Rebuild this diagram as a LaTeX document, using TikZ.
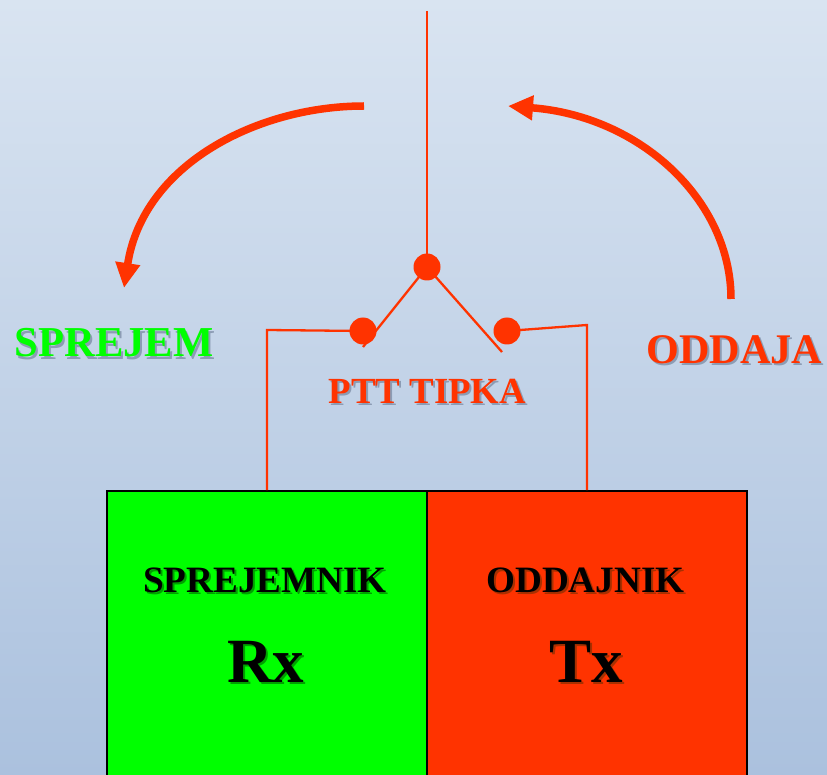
\documentclass[tikz,border=0pt]{standalone}
\usepackage{fontspec}
\setmainfont{Liberation Serif}
\usetikzlibrary{arrows.meta}
\definecolor{ored}{HTML}{FF3300}
\definecolor{lgreen}{HTML}{00FF00}
\definecolor{bgtop}{HTML}{D9E4F1}
\definecolor{bgbot}{HTML}{ABC1DE}
\definecolor{shblue}{HTML}{8C9CB4}
\definecolor{shgreen}{HTML}{00A000}
\definecolor{shred}{HTML}{A83000}
\newcommand{\shtext}[3]{\makebox[0pt][l]{\hspace{2pt}\raisebox{-2pt}{\color{#1}#3}}{\color{#2}#3}}
\tikzset{
  wire/.style={draw=ored,line width=2.3pt,line join=miter},
  bigarrow/.style={draw=ored,line width=7.5pt,-{Triangle[length=25pt,width=23.5pt,fill=ored]}},
  dot/.style={circle,fill=ored,draw=none,minimum size=27pt,inner sep=0pt},
  unit/.style={rectangle,draw=black,line width=2pt,minimum width=320pt,minimum height=400pt,inner sep=0pt},
  lab/.style={anchor=base,inner sep=0pt,font=\bfseries},
}
\begin{document}
\begin{tikzpicture}[x=1pt,y=-1pt]
\useasboundingbox (0,0) rectangle (827,775);
\clip (0,0) rectangle (827,775);
\fill[top color=bgtop,bottom color=bgbot] (0,0) rectangle (827,775);
% units
\node[unit,fill=lgreen] (rx) at (267,691) {};
\node[unit,fill=ored] (tx) at (587,691) {};
% switch
\coordinate (ant) at (427,11);
\coordinate (legL) at (363,347);
\coordinate (legR) at (502,352);
\coordinate (cornerL) at (267,330);
\coordinate (cornerR) at (587,325);
\node[dot] (hub) at (427,267) {};
\node[dot] (dotL) at (363,331) {};
\node[dot] (dotR) at (507,331) {};
\draw[wire] (ant) -- (hub.center);
\draw[wire] (hub.center) -- (legL);
\draw[wire] (hub.center) -- (legR);
\draw[wire] (dotL.center) -- (cornerL) -- (rx.north);
\draw[wire] (dotR.center) -- (cornerR) -- (tx.north);
% big arrows
\coordinate (a1s) at (364,106);
\coordinate (a1e) at (124,288);
\coordinate (a2s) at (731,299);
\coordinate (a2e) at (508,106);
\draw[bigarrow] (a1s) .. controls (258,106) and (143,164) .. (a1e);
\draw[bigarrow] (a2s) .. controls (731,200) and (640,116) .. (a2e);
% labels
\node[lab] (sprejem) at (114,357) {\fontsize{42.6}{42.6}\selectfont\shtext{shblue}{lgreen}{SPREJEM}};
\node[lab] (oddaja) at (734.5,363) {\fontsize{42.2}{42.2}\selectfont\shtext{shblue}{ored}{ODDAJA}};
\node[lab] (ptt) at (427.5,403) {\fontsize{36.8}{36.8}\selectfont\shtext{shblue}{ored}{PTT TIPKA}};
\node[lab] (t1) at (265,592) {\fontsize{37.2}{37.2}\selectfont\shtext{shgreen}{black}{SPREJEMNIK}};
\node[lab] (t2) at (585.5,592) {\fontsize{37.2}{37.2}\selectfont\shtext{shred}{black}{ODDAJNIK}};
\node[lab] (t3) at (265.5,682) {\fontsize{63}{63}\selectfont\shtext{shgreen}{black}{Rx}};
\node[lab] (t4) at (586,682) {\fontsize{63}{63}\selectfont\shtext{shred}{black}{Tx}};
\end{tikzpicture}
\end{document}
